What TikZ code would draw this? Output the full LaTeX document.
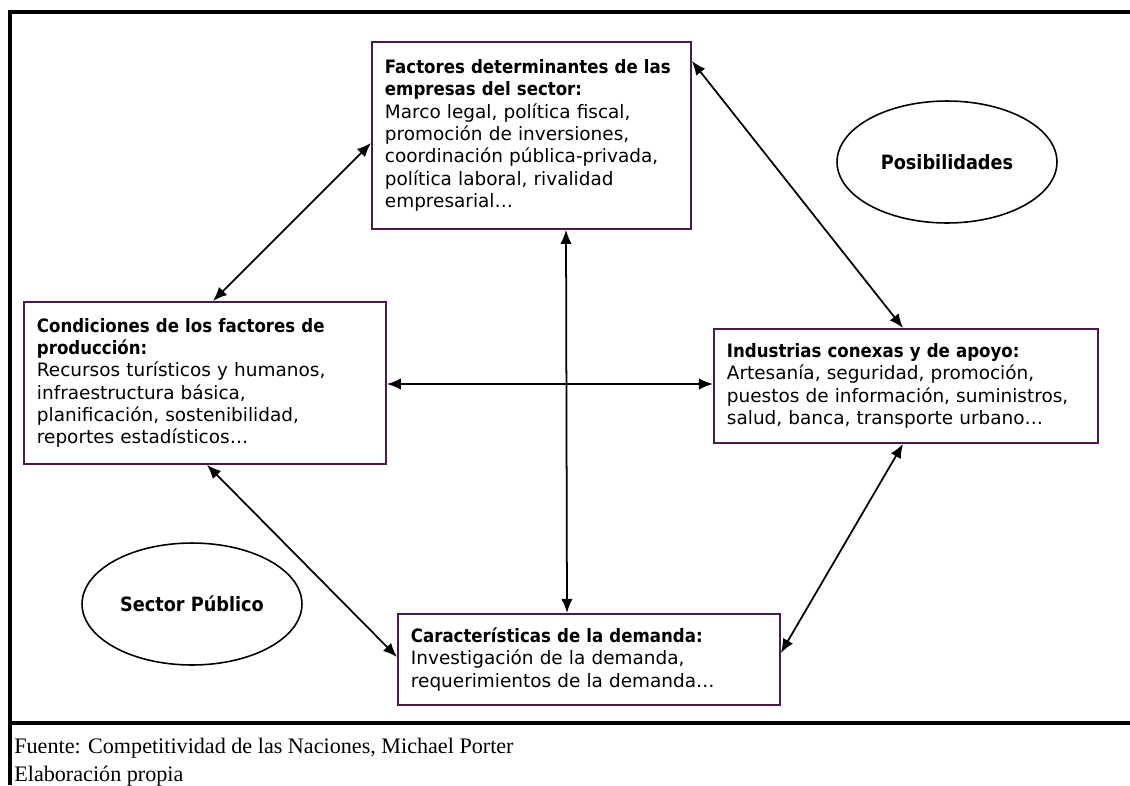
\documentclass[tikz,border=0pt]{standalone}
\usepackage{fontspec}
\setmainfont{Liberation Serif}
\newfontfamily\cajafont{DejaVu Sans}[BoldFont={DejaVu Sans Condensed Bold}]
\usetikzlibrary{arrows.meta,shapes.geometric,calc}
\definecolor{borde}{RGB}{75,25,75}

\begin{document}
\begin{tikzpicture}[
			x=0.02cm, y=-0.02cm,
			caja/.style={rectangle,draw=borde,line width=1.1pt,anchor=north west,
			align=left,inner xsep=0.26cm,inner ysep=0pt,
			font=\cajafont\fontsize{10.5}{12.7}\selectfont},
			elipse/.style={ellipse,draw=black,line width=0.9pt,
			minimum width=4.4cm,minimum height=2.44cm,
			font=\cajafont\bfseries\fontsize{11.2}{13}\selectfont},
			flecha/.style={>={Latex[length=8pt,width=6.5pt]},draw=black,line width=1pt,<->}
			]
			\useasboundingbox (0,0) rectangle (1130,785);
			% marco
			\draw[line width=1.8pt] (1130,12) -- (10,12) -- (10,785);
			\draw[line width=1.8pt] (10,723) -- (1130,723);
			% cajas
			\node[caja,minimum width=6.38cm,minimum height=3.74cm,text width=5.86cm] (fact) at (371,41)
				{\textbf{Factores determinantes de las}\\ \textbf{empresas del sector:}\\
				Marco legal, política fiscal,\\ promoción de inversiones,\\
				coordinación pública-privada,\\ política laboral, rivalidad\\ empresarial…};
			\node[caja,minimum width=7.24cm,minimum height=3.24cm,text width=6.72cm] (cond) at (23,301)
				{\textbf{Condiciones de los factores de}\\ \textbf{producción:}\\
				Recursos turísticos y humanos,\\ infraestructura básica,\\
				planificación, sostenibilidad,\\ reportes estadísticos…};
			\node[caja,minimum width=7.68cm,minimum height=2.28cm,text width=7.16cm] (ind) at (713,328)
				{\textbf{Industrias conexas y de apoyo:}\\ Artesanía, seguridad, promoción,\\
				puestos de información, suministros,\\ salud, banca, transporte urbano…};
			\node[caja,minimum width=7.64cm,minimum height=1.82cm,text width=7.12cm] (dem) at (397,613)
				{\textbf{Características de la demanda:}\\ Investigación de la demanda,\\
				requerimientos de la demanda\ldots};
			\node[elipse] (pos) at (947,162) {Posibilidades};
			\node[elipse] (pub) at (192,604) {Sector Público};
			% relaciones
			\draw[flecha] ($(cond.north west)+(190,0)$) -- ($(fact.north west)+(0,102)$);
			\draw[flecha] ($(fact.north east)+(0,20)$) -- ($(ind.north west)+(190,0)$);
			\draw[flecha] ($(cond.north east)+(0,83)$) -- ($(ind.north west)+(0,56)$);
			\draw[flecha] ($(fact.south west)+(195,0)$) -- ($(dem.north west)+(170,0)$);
			\draw[flecha] ($(cond.south west)+(184,0)$) -- ($(dem.north west)+(0,44)$);
			\draw[flecha] ($(dem.north east)+(0,40)$) -- ($(ind.south west)+(190,0)$);
			% fuente
			\node[anchor=north west,align=left,inner sep=0pt,
				font=\fontsize{12.6}{15.8}\selectfont] (fuente) at (14,738)
				{Fuente: Competitividad de las Naciones, Michael Porter\\ Elaboración propia};
		\end{tikzpicture}
\end{document}
